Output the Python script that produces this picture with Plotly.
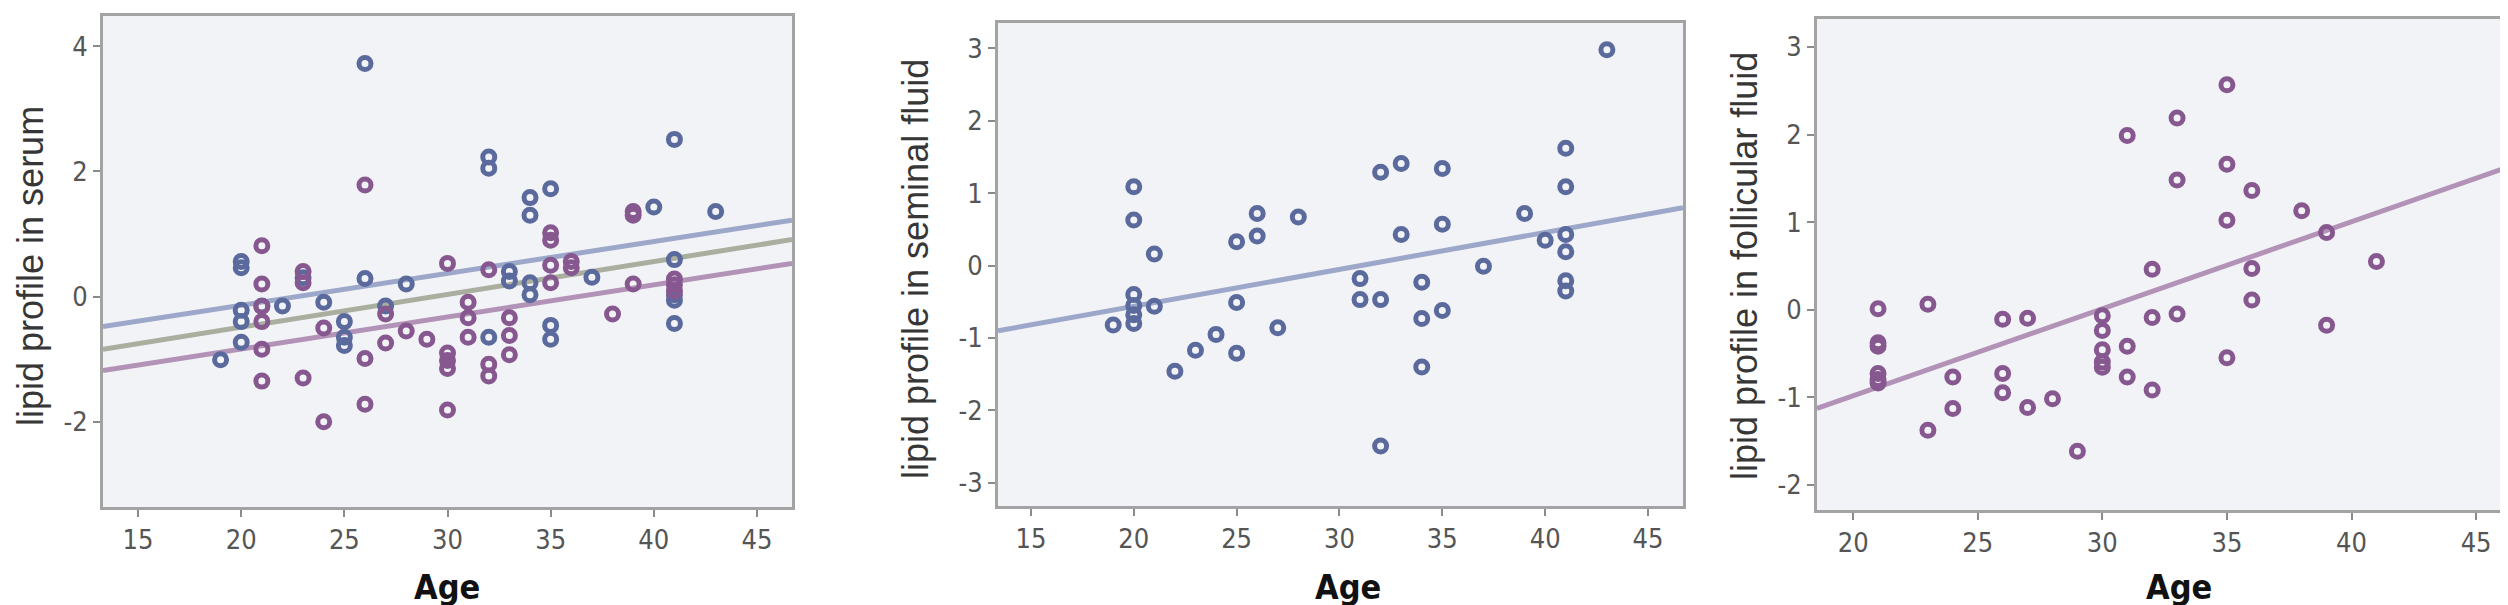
import plotly.graph_objects as go

# ---------------- data ----------------
# Panel 1: lipid profile in serum (two groups)
serum_blue_age = [26, 41, 32, 32, 35, 34, 34, 40, 43, 37, 41, 41, 41, 41, 28, 26, 33, 33, 34, 34,
                  32, 35, 35, 25, 25, 25, 24, 22, 20, 20, 20, 20, 20, 21, 19, 23, 27]
serum_blue_val = [3.72, 2.51, 2.23, 2.05, 1.72, 1.58, 1.30, 1.43, 1.36, 0.31, 0.59, 0.03, -0.06, -0.43, 0.20, 0.29, 0.40, 0.25, 0.22, 0.03,
                  -0.65, -0.46, -0.68, -0.40, -0.65, -0.78, -0.09, -0.15, 0.56, 0.46, -0.22, -0.40, -0.73, -0.15, -1.01, 0.30, -0.15]
serum_purple_age = [26, 39, 39, 35, 35, 36, 36, 35, 35, 30, 32, 39, 41, 41, 41, 38, 21, 21, 21, 21, 21, 21,
                    23, 23, 23, 24, 24, 26, 26, 27, 27, 28, 29, 30, 30, 30, 30, 31, 31, 31, 32, 32, 33, 33, 33]
serum_purple_val = [1.78, 1.36, 1.30, 1.02, 0.90, 0.56, 0.46, 0.50, 0.22, 0.53, 0.43, 0.20, 0.28, 0.09, 0.19, -0.28, 0.81, 0.20, -0.16, -0.40, -0.84, -1.35,
                    0.40, 0.22, -1.30, -0.50, -2.00, -0.99, -1.72, -0.28, -0.74, -0.55, -0.68, -0.90, -1.02, -1.15, -1.81, -0.09, -0.34, -0.65, -1.08, -1.27, -0.34, -0.62, -0.93]
serum_fit_x = [13.3, 46.7]
serum_fit_blue = [-0.48, 1.22]
serum_fit_total = [-0.84, 0.91]
serum_fit_purple = [-1.18, 0.53]

# Panel 2: lipid profile in seminal fluid
semen_age = [43, 41, 41, 41, 41, 41, 41, 40, 39, 37, 35, 35, 35, 34, 34, 34, 33, 33, 32, 32, 32, 31, 31,
             28, 27, 26, 26, 25, 25, 25, 24, 23, 22, 21, 21, 20, 20, 20, 20, 20, 20, 19]
semen_val = [2.98, 1.62, 1.09, 0.43, 0.19, -0.21, -0.35, 0.35, 0.72, -0.01, 1.34, 0.57, -0.62, -0.23, -0.73, -1.40, 1.41, 0.43, 1.29, -0.47, -2.49, -0.18, -0.47,
             0.67, -0.86, 0.72, 0.41, 0.33, -0.51, -1.21, -0.95, -1.17, -1.46, 0.16, -0.56, 1.09, 0.63, -0.40, -0.55, -0.68, -0.80, -0.82]
semen_fit_x = [13.4, 46.7]
semen_fit_y = [-0.90, 0.80]

# Panel 3: lipid profile in follicular fluid
foll_age = [35, 33, 31, 35, 33, 36, 38, 35, 39, 41, 32, 36, 36, 33, 32, 39, 35,
            21, 21, 21, 21, 21, 21, 23, 23, 24, 24, 26, 26, 26, 27, 27, 28, 29,
            30, 30, 30, 30, 30, 31, 31, 32]
foll_val = [2.57, 2.19, 1.99, 1.66, 1.48, 1.36, 1.13, 1.02, 0.88, 0.55, 0.46, 0.47, 0.11, -0.05, -0.09, -0.18, -0.55,
            0.01, -0.38, -0.42, -0.73, -0.80, -0.84, 0.06, -1.38, -0.77, -1.13, -0.11, -0.73, -0.95, -0.10, -1.12, -1.02, -1.62,
            -0.07, -0.24, -0.46, -0.60, -0.66, -0.42, -0.77, -0.92]
foll_fit_x = [18.55, 46.4]
foll_fit_y = [-1.13, 1.64]

x_ticks_12 = [15, 20, 25, 30, 35, 40, 45]
x_ticks_3 = [20, 25, 30, 35, 40, 45]
y_ticks_1 = [-2, 0, 2, 4]
y_ticks_2 = [-3, -2, -1, 0, 1, 2, 3]
y_ticks_3 = [-2, -1, 0, 1, 2, 3]

y_titles = ["lipid profile in serum", "lipid profile in seminal fluid", "lipid profile in follicular fluid"]

# ---------------- style ----------------
W, H = 2508, 605
BLUE = "#5b6a9c"
PURPLE = "#86588f"
BLUE_LINE = "#9ca7c9"
GRAY_LINE = "#a9ae9f"
PURPLE_LINE = "#b292b6"
BG = "#f2f3f7"
FRAME = "#a3a3a3"
TICKFONT = dict(family="Liberation Sans Narrow, DejaVu Sans Condensed, Arial Narrow, sans-serif", size=27, color="#555555")

def mk(color):
    return dict(symbol="circle-open", size=12, color=color, line=dict(width=5, color=color))

fig = go.Figure()

# Panel 1
fig.add_trace(go.Scatter(x=serum_fit_x, y=serum_fit_blue, mode="lines", line=dict(color=BLUE_LINE, width=5), xaxis="x", yaxis="y", showlegend=False))
fig.add_trace(go.Scatter(x=serum_fit_x, y=serum_fit_total, mode="lines", line=dict(color=GRAY_LINE, width=5), xaxis="x", yaxis="y", showlegend=False))
fig.add_trace(go.Scatter(x=serum_fit_x, y=serum_fit_purple, mode="lines", line=dict(color=PURPLE_LINE, width=5), xaxis="x", yaxis="y", showlegend=False))
fig.add_trace(go.Scatter(x=serum_blue_age, y=serum_blue_val, mode="markers", marker=mk(BLUE), xaxis="x", yaxis="y", showlegend=False))
fig.add_trace(go.Scatter(x=serum_purple_age, y=serum_purple_val, mode="markers", marker=mk(PURPLE), xaxis="x", yaxis="y", showlegend=False))

# Panel 2
fig.add_trace(go.Scatter(x=semen_fit_x, y=semen_fit_y, mode="lines", line=dict(color=BLUE_LINE, width=5), xaxis="x2", yaxis="y2", showlegend=False))
fig.add_trace(go.Scatter(x=semen_age, y=semen_val, mode="markers", marker=mk(BLUE), xaxis="x2", yaxis="y2", showlegend=False))

# Panel 3
fig.add_trace(go.Scatter(x=foll_fit_x, y=foll_fit_y, mode="lines", line=dict(color=PURPLE_LINE, width=5), xaxis="x3", yaxis="y3", showlegend=False))
fig.add_trace(go.Scatter(x=foll_age, y=foll_val, mode="markers", marker=mk(PURPLE), xaxis="x3", yaxis="y3", showlegend=False))

def xax(domain, rng, ticks, anchor):
    return dict(domain=domain, range=rng, tickvals=ticks, ticktext=[str(t) for t in ticks],
                showgrid=False, zeroline=False, showline=True, linecolor=FRAME, linewidth=3, mirror=True,
                ticks="outside", ticklen=7, tickwidth=2, tickcolor="#8a8a8a", tickfont=TICKFONT, anchor=anchor)

def yax(domain, rng, ticks, anchor):
    return dict(domain=domain, range=rng, tickvals=ticks, ticktext=[str(t) for t in ticks],
                showgrid=False, zeroline=False, showline=True, linecolor=FRAME, linewidth=3, mirror=True,
                ticks="outside", ticklen=7, tickwidth=2, tickcolor="#8a8a8a", tickfont=TICKFONT, anchor=anchor)

fig.update_layout(
    width=W, height=H,
    margin=dict(l=0, r=0, t=0, b=0),
    paper_bgcolor="white", plot_bgcolor=BG,
    xaxis=xax([95 / W, 784 / W], [13.3, 46.7], x_ticks_12, "y"),
    yaxis=yax([1 - 499 / H, 1 - 8 / H], [-3.36, 4.48], y_ticks_1, "x"),
    xaxis2=xax([990 / W, 1675 / W], [13.4, 46.7], x_ticks_12, "y2"),
    yaxis2=yax([1 - 498 / H, 1 - 15 / H], [-3.32, 3.35], y_ticks_2, "x2"),
    xaxis3=xax([1809 / W, 2503 / W], [18.55, 46.4], x_ticks_3, "y3"),
    yaxis3=yax([1 - 502 / H, 1 - 11 / H], [-2.29, 3.32], y_ticks_3, "x3"),
)

TITLE_FONT = dict(family="Liberation Sans, Arial, sans-serif", size=36, color="#363636")
AGE_FONT = dict(family="Liberation Sans Narrow, DejaVu Sans Condensed, Arial Narrow, sans-serif", size=34, color="#111111")

ytitle_pos = [(22, 258), (907, 261), (1736, 258)]
age_pos = [(439, 579), (1340, 579), (2171, 579)]
for (px, py), txt in zip(ytitle_pos, y_titles):
    fig.add_annotation(x=px / W, y=1 - py / H, xref="paper", yref="paper", text=txt, showarrow=False,
                       textangle=-90, font=TITLE_FONT, xanchor="center", yanchor="middle")
for (px, py) in age_pos:
    fig.add_annotation(x=px / W, y=1 - py / H, xref="paper", yref="paper", text="<b>Age</b>", showarrow=False,
                       font=AGE_FONT, xanchor="center", yanchor="middle")

fig.write_html("out.html")
